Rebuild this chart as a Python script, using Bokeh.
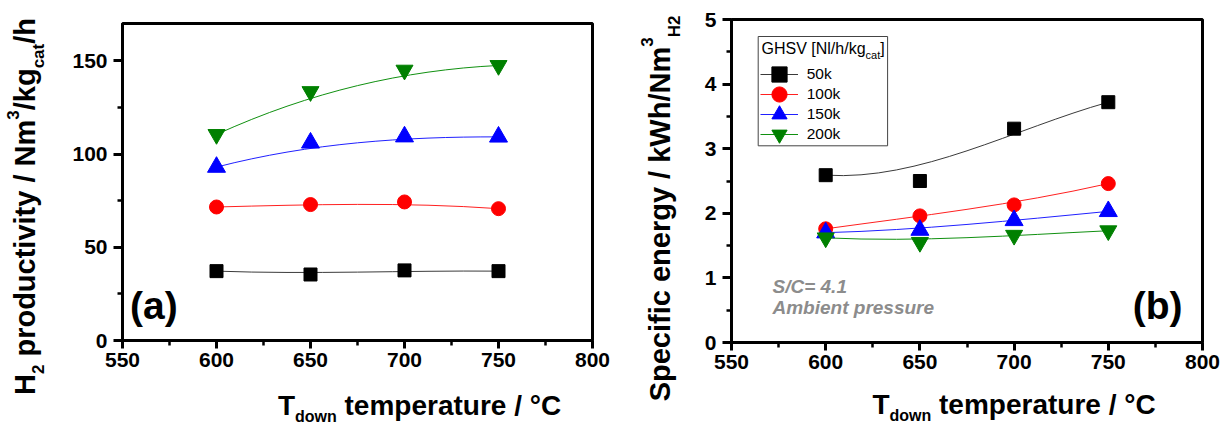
import math
from bokeh.plotting import figure
from bokeh.models import Range1d, FixedTicker, Label, Legend, LegendItem, BoxAnnotation
from bokeh.layouts import row, column
from bokeh.embed import file_html
from bokeh.resources import INLINE

# ---------------- data ----------------
temps = [600, 650, 700, 750]
series_names = ["50k", "100k", "150k", "200k"]
prod_50k = [37.2, 35.4, 37.6, 37.2]
prod_100k = [71.6, 72.9, 74.3, 70.7]
prod_150k = [93.0, 106.0, 109.3, 109.2]
prod_200k = [110.5, 133.5, 145.0, 147.5]
energy_50k = [2.59, 2.50, 3.31, 3.72]
energy_100k = [1.76, 1.96, 2.13, 2.46]
energy_150k = [1.70, 1.74, 1.89, 2.03]
energy_200k = [1.62, 1.55, 1.66, 1.73]
x_ticks = [550, 600, 650, 700, 750, 800]
x_minor = [575, 625, 675, 725, 775]
prod_ticks = [0, 50, 100, 150]
prod_minor = [25, 75, 125]
energy_ticks = [0, 1, 2, 3, 4, 5]
energy_minor = [0.5, 1.5, 2.5, 3.5, 4.5]

COLORS = ["#000000", "#ff0000", "#0000ff", "#008000"]
LINE_COLORS = ["#3a3a3a", "#ff2020", "#2020ff", "#109010"]
MARKERS = ["square", "circle", "triangle", "inverted_triangle"]
SIZES = [13, 14, 18, 17]
FONT = "Liberation Sans"
BASE_FIX = 0.3  # the rendered alphabetic baseline sits ~0.3 em lower than asked

# Arial / Liberation Sans advance widths (1/1000 em)
BOLD = {' ': 278, '(': 333, ')': 333, '/': 278, '[': 333, ']': 333, '=': 584, '.': 278,
        '\u00b0': 400, 'A': 722, 'C': 722, 'G': 778, 'H': 722, 'N': 722, 'S': 667,
        'T': 611, 'V': 667, 'W': 944, 'a': 556, 'b': 611, 'c': 556, 'd': 611, 'e': 556,
        'f': 333, 'g': 611, 'h': 611, 'i': 278, 'k': 556, 'l': 278, 'm': 889, 'n': 611,
        'o': 611, 'p': 611, 'r': 389, 's': 556, 't': 333, 'u': 611, 'v': 556, 'w': 778,
        'y': 556}
REG = {' ': 278, '[': 278, ']': 278, '/': 278, 'G': 778, 'H': 722, 'S': 667, 'V': 667,
       'N': 722, 'a': 556, 'c': 500, 'g': 556, 'h': 556, 'k': 500, 'l': 222, 't': 278}
for d in "0123456789":
    BOLD[d] = 556
    REG[d] = 556


def tw(text, size, table):
    return sum(table.get(c, 556) for c in text) * size / 1000.0


def label(p, x, y, text, size, style="bold", color="black", align="left", angle=0.0):
    fix = BASE_FIX * size
    if angle:
        x -= fix
    else:
        y += fix
    p.add_layout(Label(x=x, y=y, x_units="screen", y_units="screen", text=text,
                       angle=angle, text_font=FONT, text_font_style=style,
                       text_font_size=f"{size}px", text_color=color,
                       text_align=align, text_baseline="alphabetic"))


def add_rich(p, pieces, x0, y0, size, sub_size, sub_dy, sup_dy, vertical=False,
             style="bold", color="black", table=BOLD):
    pos = 0.0
    for text, kind in pieces:
        fs = size if kind == "n" else sub_size
        off = 0 if kind == "n" else (-sub_dy if kind == "sub" else sup_dy)
        lead = len(text) - len(text.lstrip(" "))
        pos += lead * table[' '] * fs / 1000.0
        core = text.strip(" ")
        if vertical:
            label(p, x0 - off, y0 + pos, core, fs, style, color, angle=math.pi / 2)
        else:
            label(p, x0 + pos, y0 + off, core, fs, style, color)
        pos += tw(core, fs, table)
        trail = len(text) - len(text.rstrip(" "))
        pos += trail * table[' '] * fs / 1000.0
    return pos


def pieces_len(pieces, size, sub_size, table=BOLD):
    return sum(tw(t, size if k == "n" else sub_size, table) for t, k in pieces)


def text_fig(w, h):
    f = figure(width=w, height=h, x_range=Range1d(0, 1), y_range=Range1d(0, 1),
               min_border=0, toolbar_location=None, tools="", x_axis_location=None,
               y_axis_location=None, output_backend="svg")
    f.outline_line_color = None
    f.xgrid.visible = False
    f.ygrid.visible = False
    f.background_fill_color = "white"
    f.border_fill_color = "white"
    return f


def make_fig(ylo, yhi, yticks, yminor, w, h, fl, fw, ft, fh):
    p = figure(frame_width=fw, frame_height=fh, x_range=Range1d(550, 800),
               y_range=Range1d(ylo, yhi), output_backend="svg", toolbar_location=None,
               tools="", min_border_left=fl, min_border_right=w - fl - fw,
               min_border_top=ft, min_border_bottom=h - ft - fh)
    p.xgrid.visible = False
    p.ygrid.visible = False
    p.outline_line_color = "black"
    p.outline_line_width = 3
    p.outline_line_alpha = 1
    p.background_fill_color = "white"
    p.border_fill_color = "white"
    p.xaxis.ticker = FixedTicker(ticks=x_ticks, minor_ticks=x_minor)
    p.yaxis.ticker = FixedTicker(ticks=yticks, minor_ticks=yminor)
    for ax in (p.xaxis, p.yaxis):
        ax.axis_line_width = 3
        ax.axis_line_color = "black"
        ax.major_tick_line_width = 3
        ax.minor_tick_line_width = 2.5
        ax.major_tick_in = 0
        ax.minor_tick_in = 0
        ax.major_label_text_font = FONT
        ax.major_label_text_font_style = "bold"
        ax.major_label_text_font_size = "21px"
        ax.major_label_text_color = "black"
    p.xaxis.major_tick_out = 8
    p.xaxis.minor_tick_out = 5
    p.xaxis.major_label_standoff = 4
    p.yaxis.major_tick_out = 9
    p.yaxis.minor_tick_out = 5
    p.yaxis.major_label_standoff = 6
    return p


def draw_series(p, all_vals):
    rends = []
    for vals, col, lcol, mk, sz in zip(all_vals, COLORS, LINE_COLORS, MARKERS, SIZES):
        # Origin-style B-spline through 4 points = cubic Bezier with data as control points
        br = p.bezier(x0=[temps[0]], y0=[vals[0]], cx0=[temps[1]], cy0=[vals[1]],
                      cx1=[temps[2]], cy1=[vals[2]], x1=[temps[3]], y1=[vals[3]],
                      line_color=lcol, line_width=1)
        sr = p.scatter(temps, vals, marker=mk, size=sz, fill_color=col, line_color=col)
        rends.append((br, sr))
    return rends


x_label = [("T", "n"), ("down", "sub"), (" temperature / \u00b0C", "n")]
YF, YS = 29, 17

# ---------------- panel (a) ----------------
H_MAIN = 380
W_YA = 60
FL_A, FW_A, FT_A, FH_A = 62, 470, 23, 317
pa = make_fig(0, 170, prod_ticks, prod_minor, 610 - W_YA, H_MAIN, FL_A, FW_A, FT_A, FH_A)
draw_series(pa, [prod_50k, prod_100k, prod_150k, prod_200k])
label(pa, 7.5, 23.5, "(a)", 39)

ya = text_fig(W_YA, 426)
ya_label = [("H", "n"), ("2", "sub"), (" productivity / Nm", "n"), ("3", "sup"),
            ("/kg", "n"), ("cat", "sub"), ("/h", "n")]
L = pieces_len(ya_label, YF, YS)
add_rich(ya, ya_label, 33, 220 - L / 2, YF, YS, 10, 15, vertical=True)

xa = text_fig(610 - W_YA, 426 - H_MAIN)
L = pieces_len(x_label, 28, 16)
add_rich(xa, x_label, FL_A + FW_A / 2 - L / 2, 13, 28, 16, 8, 0)

# ---------------- panel (b) ----------------
W_YB = 74
FL_B, FW_B, FT_B, FH_B = 47, 471, 19, 323
pb = make_fig(0, 5, energy_ticks, energy_minor, 610 - W_YB, H_MAIN, FL_B, FW_B, FT_B, FH_B)
rends_b = draw_series(pb, [energy_50k, energy_100k, energy_150k, energy_200k])
label(pb, 451, 25, "(b)", 39, align="right")
label(pb, 41, 50, "S/C= 4.1", 19, style="bold italic", color="#8c8c8c")
label(pb, 41, 29, "Ambient pressure", 19, style="bold italic", color="#8c8c8c")


def sx2d(sx):
    return 550 + sx / FW_B * 250


def sy2d(sy):
    return sy / FH_B * 5


# legend frame
pb.add_layout(BoxAnnotation(left=sx2d(26.7), right=sx2d(156.1), bottom=sy2d(196.7),
                            top=sy2d(306), fill_alpha=0, line_color="#444444",
                            line_width=1, line_alpha=1))
add_rich(pb, [("GHSV [Nl/h/kg", "n"), ("cat", "sub"), ("]", "n")], 30, 289, 16, 11, 5, 0,
         style="normal", table=REG)

# one single-item legend per series so that the entries sit 20 px apart
GW = 38
for i, (name, (br, sr)) in enumerate(zip(series_names, rends_b)):
    center_y = 268.4 - 20 * i
    lg = Legend(items=[LegendItem(label=name, renderers=[br, sr])],
                location=(28.7, center_y - GW / 2), padding=0, margin=0, spacing=0,
                glyph_width=GW, glyph_height=GW, label_height=GW, label_standoff=9,
                label_text_font=FONT, label_text_font_size="15.5px",
                label_text_color="black", border_line_alpha=0,
                background_fill_alpha=0)
    pb.add_layout(lg)

yb = text_fig(W_YB, 426)
yb_label = [("Specific energy / kWh/Nm", "n"), ("3", "sup"), ("H2", "sub")]
L = pieces_len(yb_label, YF, YS)
add_rich(yb, yb_label, 668 - 610, 218 - L / 2, YF, YS, 11, 16, vertical=True)

xb = text_fig(610 - W_YB, 426 - H_MAIN)
L = pieces_len(x_label, 28, 16)
add_rich(xb, x_label, FL_B + FW_B / 2 - L / 2, 14, 28, 16, 8, 0)

layout = row(ya, column(pa, xa), yb, column(pb, xb))
open("out.html", "w").write(file_html(layout, INLINE))
